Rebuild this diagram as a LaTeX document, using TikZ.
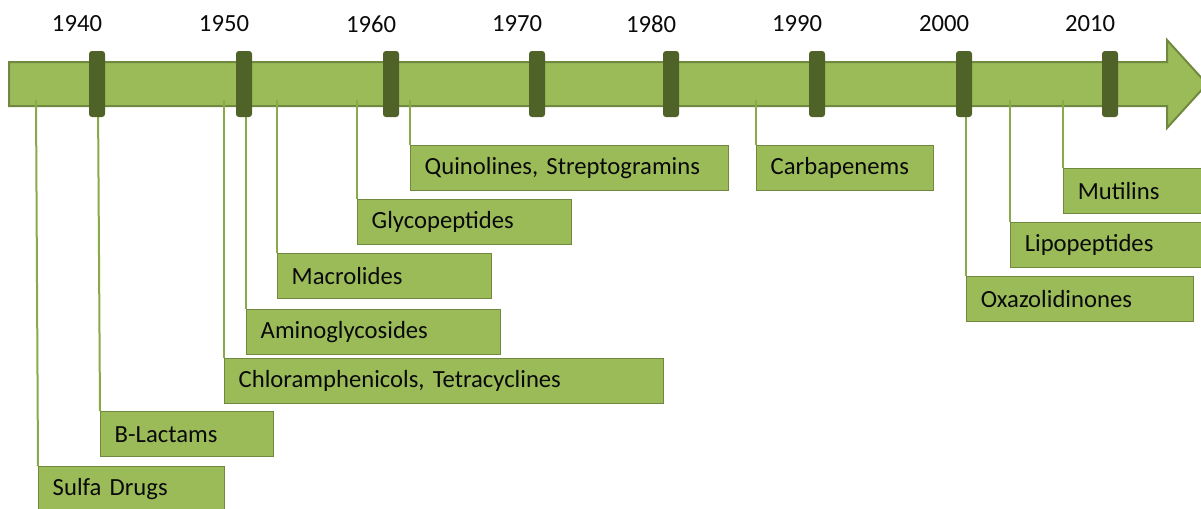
\documentclass[tikz,border=0pt]{standalone}
\usepackage{fontspec}
\setmainfont{Carlito}
\definecolor{fillg}{HTML}{9BBB59}
\definecolor{edgeg}{HTML}{71893F}
\definecolor{lineg}{HTML}{88AA48}
\definecolor{tickg}{HTML}{4F6228}
\definecolor{txt}{HTML}{0A0A0A}
\tikzset{
  arrowbody/.style={fill=fillg,draw=edgeg,line width=1.5pt,line join=miter},
  tickbox/.style={fill=tickg,rounded corners=2.2pt,minimum width=12pt,minimum height=49.5pt,inner sep=0pt},
  yearlab/.style={font=\fontsize{18.5pt}{20pt}\selectfont,text=txt,inner sep=0pt},
  labbox/.style={fill=fillg,draw=edgeg,line width=1.1pt,anchor=north west,minimum height=33.75pt,
     inner xsep=10.5pt,inner ysep=0pt,align=left,font=\fontsize{18.5pt}{20pt}\selectfont,text=txt},
  conn/.style={draw=lineg,line width=1.5pt}
}
\begin{document}
\begin{tikzpicture}[x=0.75pt,y=-0.75pt]
\useasboundingbox (0,0) rectangle (1201,508);
% arrow
\draw[arrowbody] (9,62) -- (1167,62) -- (1167,40) -- (1207,84) -- (1167,128) -- (1167,106) -- (9,106) -- cycle;
% label boxes
\node[labbox,text width=118.5pt] (b1) at (38,466) {Sulfa Drugs};
\node[labbox,text width=108.75pt] (b2) at (100,411) {B-Lactams};
\node[labbox,text width=308.25pt] (b3) at (224,358) {Chloramphenicols, Tetracyclines};
\node[labbox,text width=169.5pt] (b4) at (246,309) {Aminoglycosides};
\node[labbox,text width=139.5pt] (b5) at (277,253) {Macrolides};
\node[labbox,text width=139.5pt] (b6) at (357,199) {Glycopeptides};
\node[labbox,text width=217.5pt] (b7) at (410,145) {Quinolines, Streptogramins};
\node[labbox,text width=111.75pt] (b8) at (756,145) {Carbapenems};
\node[labbox,text width=149.25pt] (b9) at (966,276) {Oxazolidinones};
\node[labbox,text width=122.25pt] (b10) at (1010,222) {Lipopeptides};
\node[labbox,text width=83.25pt] (b11) at (1063,168) {Mutilins};
% connector anchors on the arrow
\coordinate (c1) at (36,100);
\coordinate (c2) at (98,100);
\coordinate (c3) at (224,100);
\coordinate (c4) at (246,100);
\coordinate (c5) at (277,100);
\coordinate (c6) at (357,100);
\coordinate (c7) at (410,100);
\coordinate (c8) at (756,100);
\coordinate (c9) at (966,100);
\coordinate (c10) at (1010,100);
\coordinate (c11) at (1063,100);
\foreach \i in {1,...,11} {\draw[conn] (c\i) -- (b\i.north west);}
% ticks and years
\foreach \yr/\x in {1940/97,1950/244,1960/391,1970/537,1980/671,1990/817,2000/964,2010/1110} {
  \node[tickbox] (t\yr) at (\x,84) {};
  \node[yearlab] (y\yr) at (\x-20,24) {\yr};
}
\end{tikzpicture}
\end{document}
